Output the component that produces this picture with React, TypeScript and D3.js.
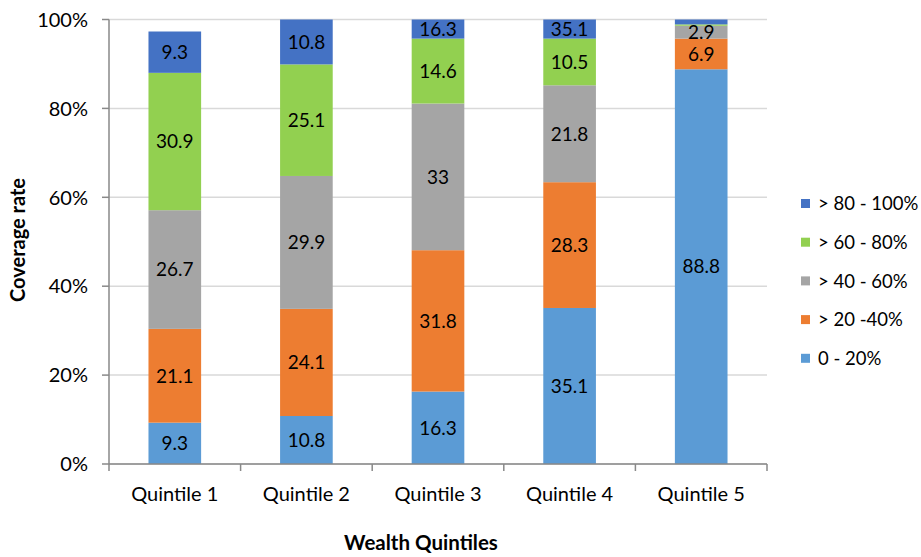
import React from "react";
import * as d3 from "d3";

// Coverage-rate bands per wealth quintile (percent of population)
const quintiles = ["Quintile 1", "Quintile 2", "Quintile 3", "Quintile 4", "Quintile 5"];
const band0to20 = [9.3, 10.8, 16.3, 35.1, 88.8];
const band20to40 = [21.1, 24.1, 31.8, 28.3, 6.9];
const band40to60 = [26.7, 29.9, 33, 21.8, 2.9];
const band60to80 = [30.9, 25.1, 14.6, 10.5, 0.3];
const band80to100 = [9.3, 10.8, 16.3, 35.1, 1.1];

const seriesNames = ["0 - 20%", "> 20 -40%", "> 40 - 60%", "> 60 - 80%", "> 80 - 100%"];
const seriesColors = ["#5B9BD5", "#ED7D31", "#A5A5A5", "#92D050", "#4472C4"];
const yTicks = [0, 20, 40, 60, 80, 100];

const W = 921;
const H = 557;
const plot = { left: 109, right: 767, top: 19.5, bottom: 464 };
const FONT = "Lato, 'Open Sans', sans-serif";

export default function App() {
  const seriesValues = [band0to20, band20to40, band40to60, band60to80, band80to100];
  const rows = quintiles.map((q, i) => {
    const r: Record<string, number | string> = { q };
    seriesNames.forEach((s, k) => (r[s] = seriesValues[k][i]));
    return r;
  });
  const stacked = d3.stack<any>().keys(seriesNames)(rows as any);

  const x = d3.scaleBand().domain(quintiles).range([plot.left, plot.right]).paddingInner(0.6).paddingOuter(0.3);
  const xCat = d3.scaleBand().domain(quintiles).range([plot.left, plot.right]);
  const y = d3.scaleLinear().domain([0, 100]).range([plot.bottom, plot.top]);
  const clampY = (v: number) => y(Math.min(100, v));

  return (
    <svg
      width={W}
      height={H}
      style={{ position: "absolute", left: 0, top: 0, background: "#fff", fontFamily: FONT }}
    >
      {/* gridlines */}
      {yTicks.map((t) => (
        <line key={"g" + t} x1={plot.left} x2={plot.right} y1={y(t)} y2={y(t)} stroke="#D9D9D9" strokeWidth={1.5} />
      ))}

      {/* stacked bars, clipped at the 100% axis maximum */}
      {stacked.map((layer, k) => (
        <g key={layer.key} fill={seriesColors[k]}>
          {layer.map((d, i) => {
            const top = clampY(d[1]);
            const bot = clampY(d[0]);
            const h = bot - top;
            if (h <= 0) return null;
            return (
              <rect key={i} x={x(quintiles[i])} width={x.bandwidth()} y={top} height={h} />
            );
          })}
        </g>
      ))}

      {/* data labels */}
      {stacked.map((layer, k) => (
        <g key={"l" + layer.key}>
          {layer.map((d, i) => {
            const v = seriesValues[k][i];
            const top = clampY(d[1]);
            const bot = clampY(d[0]);
            if (v < 2 || bot - top <= 0) return null;
            return (
              <text
                key={i}
                x={(x(quintiles[i]) as number) + x.bandwidth() / 2}
                y={(top + bot) / 2}
                dy="0.36em"
                textAnchor="middle"
                fontSize={19}
                fill="#000"
              >
                {String(v)}
              </text>
            );
          })}
        </g>
      ))}

      {/* y axis */}
      <line x1={plot.left} x2={plot.left} y1={plot.top} y2={plot.bottom} stroke="#898989" strokeWidth={1.5} />
      {yTicks.map((t) => (
        <g key={"t" + t}>
          <line x1={plot.left - 7} x2={plot.left} y1={y(t)} y2={y(t)} stroke="#898989" strokeWidth={1.5} />
          <text x={88} y={y(t)} dy="0.36em" textAnchor="end" fontSize={20} fill="#000">
            {t + "%"}
          </text>
        </g>
      ))}

      {/* x axis */}
      <line x1={plot.left} x2={plot.right} y1={plot.bottom} y2={plot.bottom} stroke="#898989" strokeWidth={1.5} />
      {quintiles.map((q) => (
        <line
          key={"xt" + q}
          x1={xCat(q)}
          x2={xCat(q)}
          y1={plot.bottom}
          y2={plot.bottom + 7}
          stroke="#898989"
          strokeWidth={1.5}
        />
      ))}
      <line x1={plot.right} x2={plot.right} y1={plot.bottom} y2={plot.bottom + 7} stroke="#898989" strokeWidth={1.5} />
      {quintiles.map((q) => (
        <text
          key={"xl" + q}
          x={(xCat(q) as number) + xCat.bandwidth() / 2}
          y={494}
          dy="0.36em"
          textAnchor="middle"
          fontSize={20}
          fill="#000"
        >
          {q}
        </text>
      ))}

      {/* axis titles */}
      <text x={421} y={543} dy="0.36em" textAnchor="middle" fontSize={20.5} fontWeight="bold" fill="#000">
        Wealth Quintiles
      </text>
      <text
        transform={`translate(18, 240) rotate(-90)`}
        dy="0.36em"
        textAnchor="middle"
        fontSize={20}
        fontWeight="bold"
        fill="#000"
      >
        Coverage rate
      </text>

      {/* legend, top series first */}
      {seriesNames
        .map((s, k) => ({ s, k }))
        .reverse()
        .map(({ s, k }, j) => (
          <g key={"lg" + s} transform={`translate(801, ${203.5 + j * 38.7})`}>
            <rect x={0} y={-4.5} width={9} height={9} fill={seriesColors[k]} />
            <text x={17} y={0} dy="0.36em" fontSize={18.5} fill="#000">
              {s}
            </text>
          </g>
        ))}
    </svg>
  );
}
